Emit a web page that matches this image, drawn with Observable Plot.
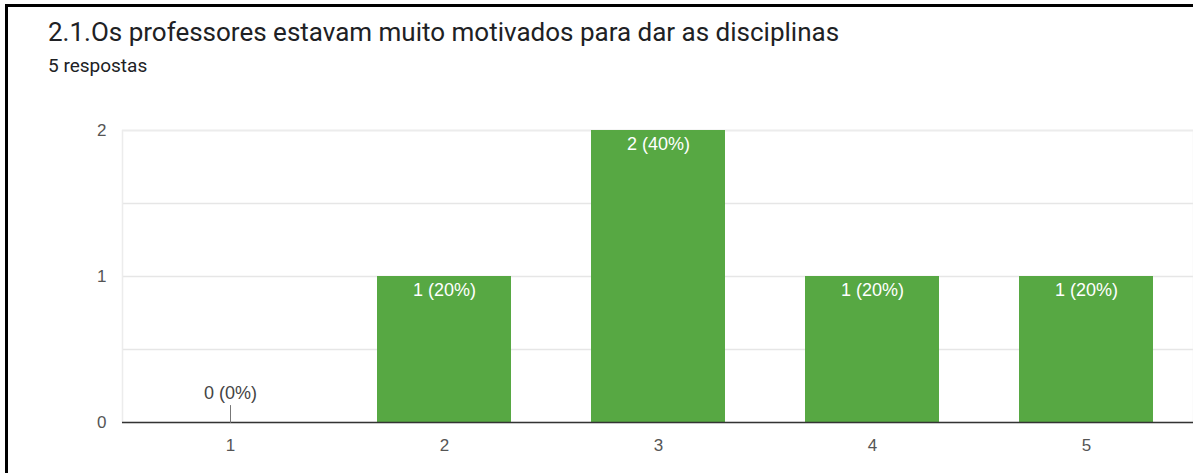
<!DOCTYPE html>
<html>
<head>
<meta charset="utf-8">
<script src="https://cdn.jsdelivr.net/npm/d3@7"></script>
<script src="https://cdn.jsdelivr.net/npm/@observablehq/plot@0.6"></script>
<style>
  html, body { margin: 0; padding: 0; background: #fff; }
  #root { position: relative; width: 1193px; height: 473px; overflow: hidden; background: #fff; }
  #border { position: absolute; left: 5px; top: 4px; width: 1188px; height: 469px; border-left: 3px solid #000; border-top: 3px solid #000; box-sizing: border-box; }
  #title { position: absolute; left: 48px; top: 19px; font-family: Roboto, "Noto Sans", sans-serif; font-size: 26px; line-height: 26px; color: #202124; white-space: nowrap; }
  #subtitle { position: absolute; left: 48px; top: 56px; font-family: Roboto, "Noto Sans", sans-serif; font-size: 19px; line-height: 19px; color: #202124; white-space: nowrap; }
  #chart { position: absolute; left: 0; top: 100px; }
</style>
</head>
<body>
<div id="root">
  <div id="border"></div>
  <div id="title">2.1.Os professores estavam muito motivados para dar as disciplinas</div>
  <div id="subtitle">5 respostas</div>
  <div id="chart"></div>
</div>
<script>
const categories = ["1", "2", "3", "4", "5"];
const counts = [0, 1, 2, 1, 1];
const yTicks = [0, 1, 2];
const gridLines = [0.5, 1, 1.5, 2];

const total = d3.sum(counts);
const data = categories.map((c, i) => ({
  cat: c,
  value: counts[i],
  label: `${counts[i]} (${Math.round(counts[i] / total * 100)}%)`
}));
const nonZero = data.filter(d => d.value > 0);
const zero = data.filter(d => d.value === 0);

const stem = {
  draw(context, l) {
    context.moveTo(0, 0);
    context.lineTo(0, -l);
  }
};

const chart = Plot.plot({
  width: 1193,
  height: 373,
  marginLeft: 122,
  marginRight: 0,
  marginTop: 30,
  marginBottom: 51,
  style: { fontFamily: "'Liberation Sans', Arial, sans-serif", fontSize: "17px", color: "#555", background: "transparent" },
  x: { type: "band", domain: categories, paddingInner: 0.375, paddingOuter: 0.1875, tickSize: 0, tickPadding: 16, label: null },
  y: { domain: [0, 2], ticks: yTicks, tickSize: 0, tickPadding: 16, tickFormat: d3.format("d"), label: null },
  marks: [
    Plot.ruleY(gridLines, { stroke: "#e6e6e6", strokeWidth: 1.5 }),
    Plot.frame({ stroke: "#ececec", strokeWidth: 1.5 }),
    Plot.barY(data, { x: "cat", y: "value", fill: "#57a843" }),
    Plot.ruleY([0], { stroke: "#333", strokeWidth: 1.5 }),
    Plot.text(nonZero, { x: "cat", y: "value", text: "label", fill: "#fff", dy: 14, fontSize: 18 }),
    Plot.vector(zero, { x: "cat", y: "value", length: 17, rotate: 0, anchor: "start", shape: stem, stroke: "#777", strokeWidth: 1 }),
    Plot.text(zero, { x: "cat", y: "value", text: "label", fill: "#444", dy: -29, fontSize: 18 })
  ]
});
document.getElementById("chart").appendChild(chart);
</script>
</body>
</html>
